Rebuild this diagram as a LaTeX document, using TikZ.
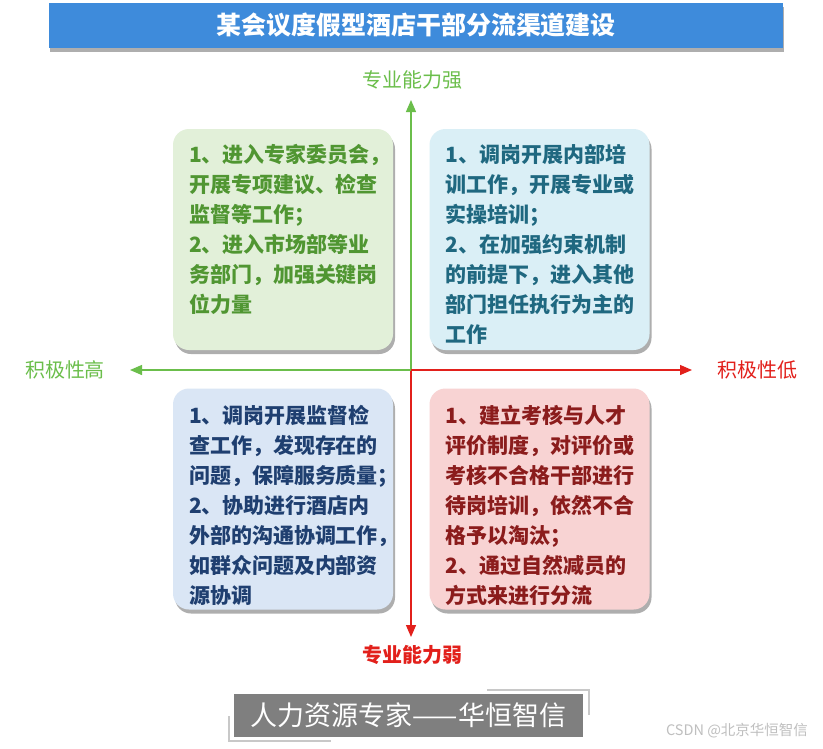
\documentclass[tikz,border=0pt]{standalone}
\usepackage{fontspec}
\setmainfont{Noto Sans CJK SC}
\newfontfamily\cjk{Noto Sans CJK SC}
\usetikzlibrary{shadows,arrows.meta}
\definecolor{barblue}{RGB}{62,139,219}
\definecolor{axgreen}{RGB}{107,190,75}
\definecolor{axred}{RGB}{226,32,27}
\definecolor{tlfill}{RGB}{226,240,217}
\definecolor{tltext}{RGB}{80,150,50}
\definecolor{trfill}{RGB}{218,239,246}
\definecolor{trtext}{RGB}{31,104,128}
\definecolor{blfill}{RGB}{218,230,245}
\definecolor{bltext}{RGB}{31,63,112}
\definecolor{brfill}{RGB}{248,211,211}
\definecolor{brtext}{RGB}{139,28,28}
\definecolor{logogray}{RGB}{127,127,127}
\definecolor{bracketgray}{RGB}{200,200,200}
\begin{document}
\begin{tikzpicture}[x=1pt,y=-1pt,
  quad/.style={rounded corners=16pt, minimum width=220pt, minimum height=221pt, inner sep=0pt,
    drop shadow={shadow xshift=2pt, shadow yshift=-4pt, opacity=0.45, fill=black!70}},
  quadtext/.style={anchor=north west, align=left, inner sep=0pt,
    font=\cjk\bfseries\fontsize{21}{30}\selectfont},
  axis/.style={line width=1.3pt, -{Triangle[length=12pt,width=10pt]}},
  axlabel/.style={font=\cjk\fontsize{20}{24}\selectfont, inner sep=0pt}
]
\useasboundingbox (0,0) rectangle (823,748);
\fill[white] (0,0) rectangle (823,748);

% title
\node[fill=barblue, minimum width=734pt, minimum height=45pt, inner sep=0pt,
  drop shadow={shadow xshift=1pt, shadow yshift=-4pt, opacity=0.45, fill=black!70},
  text=white, font=\cjk\bfseries\fontsize{25}{28}\selectfont] (title) at (416,25.5) {某会议度假型酒店干部分流渠道建设};

% axes
\coordinate (o) at (411,370);
\coordinate (up) at (411,100);
\coordinate (down) at (411,637);
\coordinate (lft) at (130,370);
\coordinate (rgt) at (692,370);
\draw[axis, axgreen] (o) -- (up);
\draw[axis, axred] (o) -- (down);
\draw[axis, axgreen] (o) -- (lft);
\draw[axis, axred] (o) -- (rgt);

\node[axlabel, text=axgreen] (strong) at (412,80) {专业能力强};
\node[axlabel, text=axred, font=\cjk\bfseries\fontsize{20}{24}\selectfont] (weak) at (412,655) {专业能力弱};
\node[axlabel, text=axgreen] (high) at (65,370) {积极性高};
\node[axlabel, text=axred] (low) at (757,370) {积极性低};

% quadrants
\node[quad, fill=tlfill] (tl) at (283,239.5) {};
\node[quad, fill=trfill] (tr) at (539.5,239.5) {};
\node[quad, fill=blfill] (bl) at (283,499) {};
\node[quad, fill=brfill] (br) at (539.5,499) {};

\node[quadtext, text=tltext] (tlt) at ([shift={(16pt,-15pt)}]tl.north west) {1、进入专家委员会，\\开展专项建议、检查\\监督等工作；\\2、进入市场部等业\\务部门，加强关键岗\\位力量};
\node[quadtext, text=trtext] (trt) at ([shift={(16pt,-15pt)}]tr.north west) {1、调岗开展内部培\\训工作，开展专业或\\实操培训；\\2、在加强约束机制\\的前提下，进入其他\\部门担任执行为主的\\工作};
\node[quadtext, text=bltext] (blt) at ([shift={(16pt,-17pt)}]bl.north west) {1、调岗开展监督检\\查工作，发现存在的\\问题，保障服务质量；\\2、协助进行酒店内\\外部的沟通协调工作，\\如群众问题及内部资\\源协调};
\node[quadtext, text=brtext] (brt) at ([shift={(16pt,-17pt)}]br.north west) {1、建立考核与人才\\评价制度，对评价或\\考核不合格干部进行\\待岗培训，依然不合\\格予以淘汰；\\2、通过自然减员的\\方式来进行分流};

% logo
\node[fill=logogray, minimum width=349pt, minimum height=43pt, inner sep=0pt,
  text=white, font=\cjk\fontsize{27}{30}\selectfont] (logo) at (408.5,715.5) {人力资源专家——华恒智信};
\draw[bracketgray, line width=2pt] (487,690) -- (589,690) -- (589,715);
\draw[bracketgray, line width=2pt] (229,716) -- (229,741) -- (331,741);

\node[font=\cjk\fontsize{14.5}{16}\selectfont, text=black!25, inner sep=0pt] (mark) at (737,731) {CSDN @北京华恒智信};
\end{tikzpicture}
\end{document}
